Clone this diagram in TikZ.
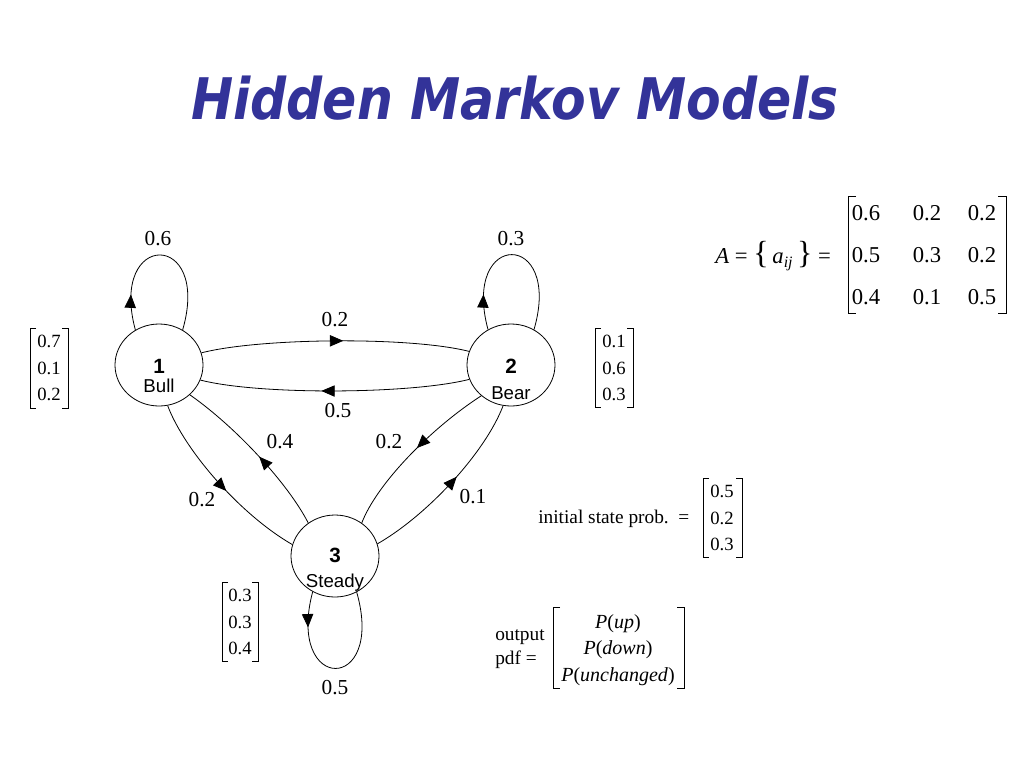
\documentclass[tikz,border=0pt]{standalone}
\usepackage{fontspec}
\usepackage{graphicx}
\setmainfont{Liberation Serif}
\newfontfamily\sansf{Liberation Sans}
\newfontfamily\titlef{DejaVu Sans}
\usetikzlibrary{shapes.geometric,arrows.meta,decorations.markings}
\definecolor{titleblue}{RGB}{51,51,153}
\newcommand\brk[5]{%
  \draw[brline] (#1+#5,#3) -- (#1,#3) -- (#1,#4) -- (#1+#5,#4);
  \draw[brline] (#2-#5,#3) -- (#2,#3) -- (#2,#4) -- (#2-#5,#4);}
\tikzset{
  state/.style={draw, ellipse, minimum width=66pt, minimum height=61.5pt, inner sep=0pt, line width=0.6pt},
  edge/.style={line width=0.6pt},
  midarrow/.style={postaction={decorate}, decoration={markings, mark=at position #1 with {\arrow{Triangle[length=10pt,width=8.5pt]}}}},
  lbl/.style={font=\fontsize{16}{18}\selectfont, inner sep=0pt},
  vec/.style={align=center, font=\fontsize{14}{20}\selectfont, inner sep=0pt},
  txt/.style={font=\fontsize{14.5}{17}\selectfont, inner sep=0pt},
  numf/.style={font=\fontsize{15.5}{16}\selectfont\sansf\bfseries, inner sep=0pt, anchor=base},
  namef/.style={font=\fontsize{14}{16}\selectfont\sansf, inner sep=0pt, anchor=base},
  matf/.style={font=\fontsize{17}{19}\selectfont, inner sep=0pt},
  brline/.style={line width=0.6pt}
}
\begin{document}
\begin{tikzpicture}[x=0.75pt,y=-0.75pt]
\useasboundingbox (0,0) rectangle (1024,768);
% title
\node[font=\fontsize{43}{50}\selectfont\titlef\bfseries\itshape, text=titleblue, anchor=base, inner sep=0pt] (title) at (515,119) {\scalebox{0.88}[1]{Hidden Markov Models}};

% states
\node[state] (n1) at (159,365) {};
\node[state] (n2) at (511,365) {};
\node[state] (n3) at (335,556) {};
\node[numf] (n1num) at (159,373) {1};
\node[namef] (n1name) at (159,392) {Bull};
\node[numf] (n2num) at (511,373) {2};
\node[namef] (n2name) at (511,399) {Bear};
\node[numf] (n3num) at (335,562) {3};
\node[namef] (n3name) at (335,587) {Steady};

% self loops
\draw[edge, midarrow=0.2] (n1.124) .. controls +(-27,-100) and +(29,-100) .. (n1.56);
\draw[edge, midarrow=0.2] (n2.123) .. controls +(-27,-100) and +(29,-100) .. (n2.57);
\draw[edge, midarrow=0.2] (n3.238.6) .. controls +(-27,102) and +(29,102) .. (n3.301.4);

% transitions
\draw[edge, midarrow=0.53] (n1.16.8) .. controls +(58,-15) and +(-59,-15) .. (n2.162.8);
\draw[edge, midarrow=0.55] (n2.199.6) .. controls +(-59,15) and +(58,15) .. (n1.340.8);
\draw[edge, midarrow=0.55] (n1.282.7) .. controls +(17,45) and +(-52,-30) .. (n3.165.6);
\draw[edge, midarrow=0.47] (n3.129) .. controls +(-20,-39) and +(47,33) .. (n1.316.7);
\draw[edge, midarrow=0.47] (n2.226.8) .. controls +(-51,33) and +(15,-39) .. (n3.51);
\draw[edge, midarrow=0.55] (n3.16) .. controls +(52,-30) and +(-17,45) .. (n2.259);

% edge labels
\node[lbl] (l11) at (158,239) {0.6};
\node[lbl] (l22) at (511,239) {0.3};
\node[lbl] (l33) at (335,688) {0.5};
\node[lbl] (l12) at (335,320) {0.2};
\node[lbl] (l21) at (338,411) {0.5};
\node[lbl] (l13) at (202,500) {0.2};
\node[lbl] (l31) at (280,442) {0.4};
\node[lbl] (l23) at (389,442) {0.2};
\node[lbl] (l32) at (473,497) {0.1};

% output vectors
\node[vec] (v1) at (49,368) {0.7\\0.1\\0.2};
\brk{30}{68}{328}{408}{6}
\node[vec] (v2) at (614,368) {0.1\\0.6\\0.3};
\brk{595}{633}{328}{407}{6}
\node[vec] (v3) at (240,622) {0.3\\0.3\\0.4};
\brk{222}{258}{582}{661}{6}

% initial state prob
\node[txt, anchor=west] (init) at (538,519) {initial state prob.~~=};
\node[vec] (vinit) at (722,518) {0.5\\0.2\\0.3};
\brk{703}{742}{478}{557}{6}

% output pdf
\node[txt, anchor=west, align=left, font=\fontsize{14.5}{17.5}\selectfont] (outl) at (495,649) {output\\pdf =};
\node[align=center, font=\fontsize{15}{20}\selectfont, inner sep=0pt] (pdf) at (618,650)
  {\textit{P}(\textit{up})\\\textit{P}(\textit{down})\\\textit{P}(\textit{unchanged})};
\brk{553}{684}{607}{688}{7}

% transition matrix
\node[matf, anchor=west] (Aeq) at (715,256) {\textit{A} = {\fontsize{24}{24}\selectfont\{}\,\textit{a}\textsubscript{\textit{ij}}\,{\fontsize{24}{24}\selectfont\}} =};
\node[matf] (m11) at (866,213) {0.6};
\node[matf] (m12) at (927,213) {0.2};
\node[matf] (m13) at (982,213) {0.2};
\node[matf] (m21) at (866,255) {0.5};
\node[matf] (m22) at (927,255) {0.3};
\node[matf] (m23) at (982,255) {0.2};
\node[matf] (m31) at (866,297) {0.4};
\node[matf] (m32) at (927,297) {0.1};
\node[matf] (m33) at (982,297) {0.5};
\brk{848}{1006}{196}{313}{8}
\end{tikzpicture}
\end{document}
